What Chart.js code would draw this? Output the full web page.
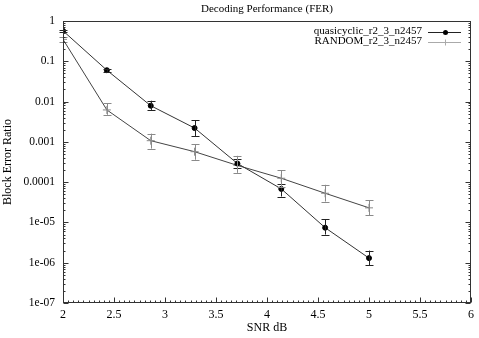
<!DOCTYPE html>
<html>
<head>
<meta charset="utf-8">
<script src="https://cdn.jsdelivr.net/npm/chart.js@4"></script>
<style>
  html, body { margin: 0; padding: 0; background: #fff; }
  #wrap { width: 479px; height: 338px; }
</style>
</head>
<body>
<div id="wrap"><canvas id="ferChart" width="479" height="338"></canvas></div>
<script>
const snr = [2, 2.43, 2.86, 3.29, 3.71, 4.14, 4.57, 5.0];

const quasiFer  = [0.57, 0.06, 0.0079, 0.0022, 0.00029, 6.8e-5, 7.4e-6, 1.3e-6];
const quasiLow  = [0.53, 0.055, 0.0062, 0.0014, 0.00023, 4.4e-5, 5.0e-6, 8.6e-7];
const quasiHigh = [0.61, 0.066, 0.0105, 0.0034, 0.00037, 9.2e-5, 1.2e-5, 2.0e-6];

const randomFer  = [0.35, 0.0062, 0.00107, 0.00057, 0.00026, 0.000125, 5.3e-5, 2.3e-5];
const randomLow  = [0.30, 0.0047, 0.00068, 0.00036, 0.00017, 7.5e-5, 3.3e-5, 1.5e-5];
const randomHigh = [0.40, 0.0092, 0.0016, 0.00087, 0.00045, 0.0002, 8.6e-5, 3.6e-5];

const seriesNames = ['quasicyclic_r2_3_n2457', 'RANDOM_r2_3_n2457'];
const yTickLabels = ['1', '0.1', '0.01', '0.001', '0.0001', '1e-05', '1e-06', '1e-07'];
const xTicks = [2, 2.5, 3, 3.5, 4, 4.5, 5, 5.5, 6];

const FONT = '"Liberation Serif", "Times New Roman", serif';

function pts(ys) {
  return snr.map((x, i) => ({ x: x, y: ys[i] }));
}

// gnuplot style frame, inward ticks, error bars and legend
const gnuplotFrame = {
  id: 'gnuplotFrame',
  afterDatasetsDraw(chart) {
    const ctx = chart.ctx;
    const a = chart.chartArea;
    const xs = chart.scales.x;
    const ys = chart.scales.y;

    // error bars
    const bars = [
      { low: quasiLow, high: quasiHigh, color: '#222' },
      { low: randomLow, high: randomHigh, color: '#8a8a8a' }
    ];
    bars.forEach(b => {
      ctx.save();
      ctx.strokeStyle = b.color;
      ctx.lineWidth = 1;
      snr.forEach((x, i) => {
        const px = Math.round(xs.getPixelForValue(x)) + 0.5;
        const y1 = ys.getPixelForValue(b.low[i]);
        const y2 = ys.getPixelForValue(b.high[i]);
        ctx.beginPath();
        ctx.moveTo(px, y1); ctx.lineTo(px, y2);
        ctx.moveTo(px - 4, Math.round(y1) + 0.5); ctx.lineTo(px + 4, Math.round(y1) + 0.5);
        ctx.moveTo(px - 4, Math.round(y2) + 0.5); ctx.lineTo(px + 4, Math.round(y2) + 0.5);
        ctx.stroke();
      });
      ctx.restore();
    });

    ctx.save();
    ctx.strokeStyle = '#333';
    ctx.lineWidth = 1;
    const L = Math.round(a.left) + 0.5, R = Math.round(a.right) - 0.5;
    const T = Math.round(a.top) + 0.5, B = Math.round(a.bottom) - 0.5;
    ctx.strokeRect(L, T, R - L, B - T);

    ctx.beginPath();
    // x ticks (bottom, inward)
    for (let k = 0; k <= 80; k++) {
      const v = 2 + k * 0.05;
      const px = Math.round(xs.getPixelForValue(v)) + 0.5;
      const len = (k % 10 === 0) ? 5 : 2;
      ctx.moveTo(px, B); ctx.lineTo(px, B - len);
    }
    // y ticks (left and right, log)
    for (let e = -7; e <= 0; e++) {
      for (let m = 1; m <= 9; m++) {
        const v = m * Math.pow(10, e);
        if (v > 1) break;
        const py = Math.round(ys.getPixelForValue(v)) + 0.5;
        const len = m === 1 ? 5 : 2;
        ctx.moveTo(L, py); ctx.lineTo(L + len, py);
        ctx.moveTo(R, py); ctx.lineTo(R - len, py);
      }
    }
    ctx.stroke();
    ctx.restore();

    // legend
    ctx.save();
    ctx.font = '11px ' + FONT;
    ctx.fillStyle = '#000';
    ctx.textAlign = 'right';
    ctx.textBaseline = 'middle';
    const rows = [
      { y: a.top + 10.5, color: '#222', marker: 'dot' },
      { y: a.top + 20.5, color: '#aaa', marker: 'cross' }
    ];
    rows.forEach((r, i) => {
      ctx.fillText(seriesNames[i], 422, r.y);
      ctx.strokeStyle = r.color;
      ctx.lineWidth = 1;
      const yy = Math.round(r.y) + 0.5;
      ctx.beginPath();
      ctx.moveTo(428, yy); ctx.lineTo(461, yy);
      ctx.stroke();
      if (r.marker === 'dot') {
        ctx.fillStyle = '#000';
        ctx.beginPath();
        ctx.arc(445.5, yy, 2.5, 0, Math.PI * 2);
        ctx.fill();
      } else {
        ctx.beginPath();
        ctx.moveTo(445.5, yy - 3); ctx.lineTo(445.5, yy + 3);
        ctx.stroke();
      }
    });

    // title
    ctx.fillStyle = '#000';
    ctx.textAlign = 'center';
    ctx.font = '11px ' + FONT;
    ctx.fillText('Decoding Performance (FER)', (a.left + a.right) / 2, 9);
    ctx.restore();
  }
};

new Chart(document.getElementById('ferChart').getContext('2d'), {
  type: 'line',
  data: {
    datasets: [{
      label: seriesNames[0],
      data: pts(quasiFer),
      borderColor: '#333',
      borderWidth: 1,
      backgroundColor: '#000',
      pointBackgroundColor: '#000',
      pointBorderColor: '#000',
      pointRadius: 2.5,
      pointStyle: 'circle',
      tension: 0
    }, {
      label: seriesNames[1],
      data: pts(randomFer),
      borderColor: '#444',
      borderWidth: 1,
      pointBorderColor: '#888',
      pointBorderWidth: 1,
      pointRadius: 4,
      pointStyle: 'cross',
      tension: 0
    }]
  },
  options: {
    responsive: false,
    animation: false,
    events: [],
    layout: { padding: { top: 21, right: 6, left: 0, bottom: 0 } },
    plugins: {
      legend: { display: false },
      title: { display: false },
      tooltip: { enabled: false }
    },
    scales: {
      x: {
        type: 'linear',
        min: 2,
        max: 6,
        grid: { display: false, drawTicks: false },
        border: { display: false },
        afterBuildTicks(scale) {
          scale.ticks = xTicks.map(v => ({ value: v }));
        },
        ticks: {
          padding: 5,
          color: '#000',
          font: { family: FONT, size: 12 },
          maxRotation: 0,
          callback: v => String(v)
        },
        title: {
          display: true,
          text: 'SNR dB',
          color: '#000',
          font: { family: FONT, size: 12 },
          padding: { top: 0, bottom: 3 }
        },
        afterFit(scale) { scale.height = 35; }
      },
      y: {
        type: 'logarithmic',
        min: 1e-7,
        max: 1,
        grid: { display: false, drawTicks: false },
        border: { display: false },
        afterBuildTicks(scale) {
          scale.ticks = yTickLabels.map(s => ({ value: Number(s) }));
        },
        ticks: {
          padding: 8,
          color: '#000',
          font: { family: FONT, size: 11.5 },
          callback: (v) => {
            const idx = yTickLabels.findIndex(s => Math.abs(Math.log10(Number(s)) - Math.log10(v)) < 1e-6);
            return idx >= 0 ? yTickLabels[idx] : '';
          }
        },
        title: {
          display: true,
          text: 'Block Error Ratio',
          color: '#000',
          font: { family: FONT, size: 12 },
          padding: { top: 1, bottom: 0 }
        },
        afterFit(scale) { scale.width = 63; }
      }
    }
  },
  plugins: [gnuplotFrame]
});
</script>
</body>
</html>
